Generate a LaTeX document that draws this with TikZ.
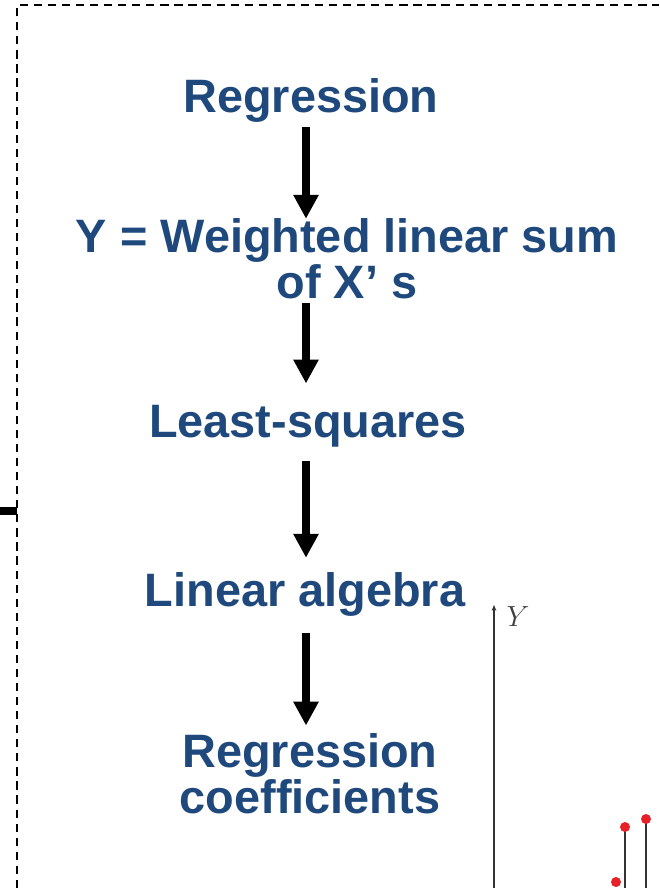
\documentclass[tikz,border=0pt]{standalone}
\usepackage{fontspec}
\setmainfont{Liberation Sans}
\usetikzlibrary{arrows.meta}
\definecolor{slideblue}{RGB}{31,73,125}
\definecolor{dotred}{RGB}{232,32,40}
\tikzset{
  stage/.style={font=\fontsize{40}{36}\selectfont\bfseries, text=slideblue,
    align=center, inner sep=0pt, anchor=base},
  flow/.style={line width=6.8pt, -{Triangle[width=20.4pt,length=20.4pt]}},
  frame/.style={dash pattern=on 7pt off 5pt, line width=1.4pt},
  stem/.style={line width=1.3pt, black!80},
}
\begin{document}
\begin{tikzpicture}[x=0.03cm, y=-0.03cm]
  \useasboundingbox (0,0) rectangle (659,888);

  % Cadre en pointillés
  \draw[frame] (17,888) -- (17,5) -- (659,5);
  \draw[line width=6pt] (0,511) -- (17,511);

  % Etapes (base = derniere ligne)
  \node[stage] (reg) at (311,112) {Regression};
  \node[stage] (wls) at (347,298) {Y = Weighted linear sum\\of X’ s};
  \node[stage] (lsq) at (308,437) {Least-squares};
  \node[stage] (linalg) at (305,606) {Linear algebra};
  \node[stage] (coef) at (310,813) {Regression\\coefficients};

  % Fleches
  \coordinate (spine) at (306,0);
  \foreach \a/\b/\s/\e in {reg/wls/4pt/0pt, wls/lsq/4pt/18pt,
      lsq/linalg/12pt/12pt, linalg/coef/14pt/7pt}
    \draw[flow, shorten <=\s, shorten >=\e] (spine |- \a.south) -- (spine |- \b.north);

  % Axe Y et points
  \draw[stem, -{Stealth[length=5pt,width=4pt]}] (494,888) -- (494,605);
  \node[text=black!75, font=\fontsize{32}{34}\selectfont] (ylab) at (518,617) {$Y$};
  \foreach \x/\y in {625/827, 646/819}{
    \draw[stem] (\x,888) -- (\x,\y);
    \fill[dotred] (\x,\y) circle (5);
  }
  \fill[dotred] (616,882) circle (5);

\end{tikzpicture}
\end{document}
